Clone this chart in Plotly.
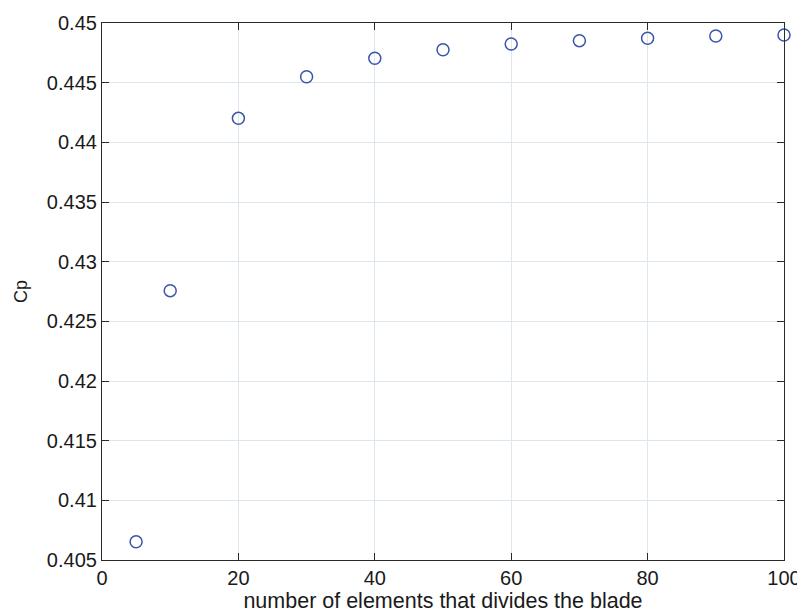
import plotly.graph_objects as go

n_elements = [5, 10, 20, 30, 40, 50, 60, 70, 80, 90, 100]
cp_values = [0.40653, 0.42757, 0.44201, 0.4455, 0.44704, 0.44776, 0.44824, 0.44852, 0.44872, 0.44891, 0.44900]

x_ticks = [0, 20, 40, 60, 80, 100]
y_ticks = [0.405, 0.41, 0.415, 0.42, 0.425, 0.43, 0.435, 0.44, 0.445, 0.45]
y_tick_text = ["0.405", "0.41", "0.415", "0.42", "0.425", "0.43", "0.435", "0.44", "0.445", "0.45"]

font_family = "Liberation Sans, Arial"
text_color = "#1a1a1a"

fig = go.Figure()
fig.add_trace(go.Scatter(
    x=n_elements, y=cp_values, mode="markers",
    marker=dict(symbol="circle-open", size=12, color="#3a55a8", line=dict(width=1.5)),
    cliponaxis=False, showlegend=False,
))

axis_common = dict(
    showline=True, linecolor="#2a2a2a", linewidth=1.2, mirror="ticks",
    ticks="inside", ticklen=7, tickcolor="#2a2a2a",
    showgrid=True, gridcolor="#dde5ee", gridwidth=1,
    zeroline=False, automargin=False,
    tickfont=dict(family=font_family, size=20, color=text_color),
)

fig.update_layout(
    width=805, height=615,
    paper_bgcolor="white", plot_bgcolor="white",
    margin=dict(l=94, r=29, t=15, b=63, autoexpand=False),
    xaxis=dict(range=[0, 100], tickvals=x_ticks,
               title=dict(text="number of elements that divides the blade", standoff=3,
                          font=dict(family=font_family, size=21.5, color=text_color)),
               **axis_common),
    yaxis=dict(range=[0.405, 0.45], tickvals=y_ticks, ticktext=y_tick_text,
               title=dict(text="Cp", standoff=14,
                          font=dict(family=font_family, size=18, color=text_color)),
               **axis_common),
)

fig.write_html("out.html")
